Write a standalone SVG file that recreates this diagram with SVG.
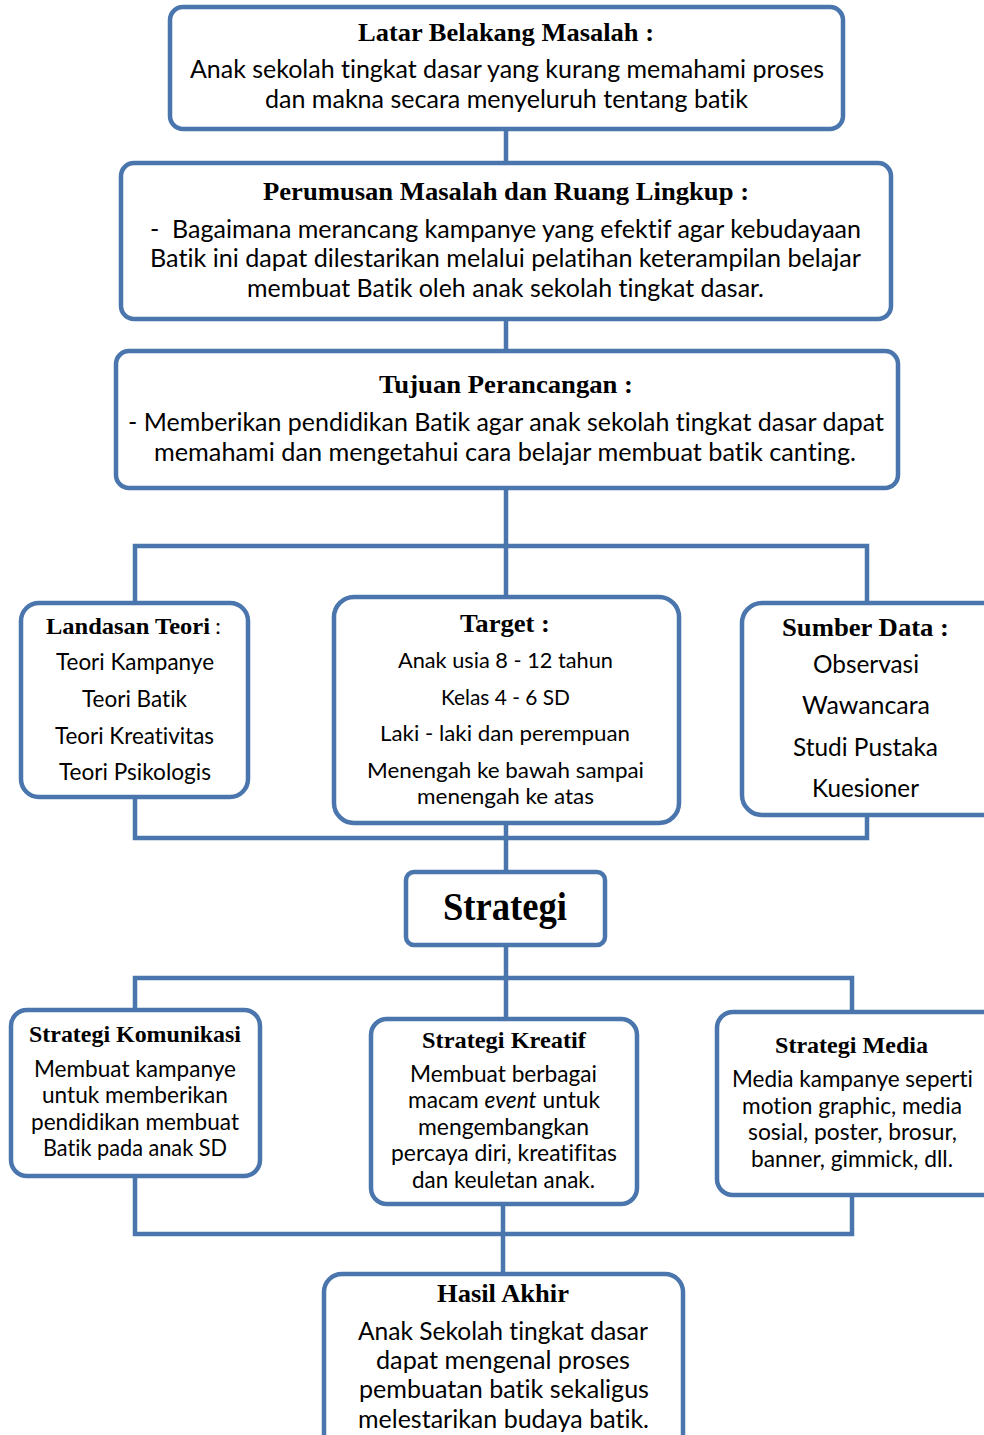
<svg xmlns="http://www.w3.org/2000/svg" width="984" height="1435" viewBox="0 0 984 1435">
<style>
.box{fill:#fff;stroke:#4a76ad;stroke-width:4.5}
.ln{fill:none;stroke:#4a76ad;stroke-width:4.5}
.h{font-family:"Liberation Serif",serif;font-weight:bold;fill:#000;text-anchor:middle}
.b{font-family:Lato,"Liberation Sans",sans-serif;fill:#000;text-anchor:middle;font-variant-ligatures:none}
</style>
<rect width="984" height="1435" fill="#fff"/>
<g id="connectors">
<path class="ln" d="M506 129V163M506 319V351M506 488V597M135 603V546H867V603"/>
<path class="ln" d="M135 797V838H867V815M506 823V872"/>
<path class="ln" d="M506 945V1019M135 1010V978H852V1012"/>
<path class="ln" d="M135 1176V1234H852V1195M503 1204V1274"/>
</g>
<g id="latar">
<rect class="box" x="170" y="7" width="673" height="122" rx="13"/>
<text class="h" x="506" y="41" font-size="25.5" textLength="296" lengthAdjust="spacingAndGlyphs">Latar Belakang Masalah :</text>
<text class="b" x="507" y="78" font-size="25" textLength="634" lengthAdjust="spacingAndGlyphs">Anak sekolah tingkat dasar yang kurang memahami proses</text>
<text class="b" x="506.5" y="108" font-size="25" textLength="483" lengthAdjust="spacingAndGlyphs">dan makna secara menyeluruh tentang batik</text>
</g>
<g id="perumusan">
<rect class="box" x="121" y="163" width="770" height="156" rx="13"/>
<text class="h" x="506" y="200" font-size="25.5" textLength="486" lengthAdjust="spacingAndGlyphs">Perumusan Masalah dan Ruang Lingkup :</text>
<text class="b" x="505.5" y="238" font-size="25" textLength="711" lengthAdjust="spacingAndGlyphs" xml:space="preserve">-  Bagaimana merancang kampanye yang efektif agar kebudayaan</text>
<text class="b" x="505.5" y="267" font-size="25" textLength="711" lengthAdjust="spacingAndGlyphs">Batik ini dapat dilestarikan melalui pelatihan keterampilan belajar</text>
<text class="b" x="505.5" y="297" font-size="25" textLength="517" lengthAdjust="spacingAndGlyphs">membuat Batik oleh anak sekolah tingkat dasar.</text>
</g>
<g id="tujuan">
<rect class="box" x="116" y="351" width="782" height="137" rx="13"/>
<text class="h" x="506" y="393" font-size="25.5" textLength="254" lengthAdjust="spacingAndGlyphs">Tujuan Perancangan :</text>
<text class="b" x="506" y="431" font-size="25" textLength="756" lengthAdjust="spacingAndGlyphs">- Memberikan pendidikan Batik agar anak sekolah tingkat dasar dapat</text>
<text class="b" x="505" y="461" font-size="25" textLength="702" lengthAdjust="spacingAndGlyphs">memahami dan mengetahui cara belajar membuat batik canting.</text>
</g>
<g id="landasan">
<rect class="box" x="21" y="603" width="227" height="194" rx="18"/>
<text class="h" x="128" y="634" font-size="23" textLength="164" lengthAdjust="spacingAndGlyphs">Landasan Teori</text>
<text class="b" x="218" y="634" font-size="22">:</text>
<text class="b" x="135" y="670" font-size="23" textLength="158" lengthAdjust="spacingAndGlyphs">Teori Kampanye</text>
<text class="b" x="134.5" y="707" font-size="23" textLength="105" lengthAdjust="spacingAndGlyphs">Teori Batik</text>
<text class="b" x="134.5" y="744" font-size="23" textLength="159" lengthAdjust="spacingAndGlyphs">Teori Kreativitas</text>
<text class="b" x="135" y="780" font-size="23" textLength="152" lengthAdjust="spacingAndGlyphs">Teori Psikologis</text>
</g>
<g id="target">
<rect class="box" x="334" y="597" width="345" height="226" rx="20"/>
<text class="h" x="505" y="632" font-size="25" textLength="90" lengthAdjust="spacingAndGlyphs">Target :</text>
<text class="b" x="505.5" y="668" font-size="22" textLength="215" lengthAdjust="spacingAndGlyphs">Anak usia 8 - 12 tahun</text>
<text class="b" x="505.5" y="705" font-size="22" textLength="129" lengthAdjust="spacingAndGlyphs">Kelas 4 - 6 SD</text>
<text class="b" x="505" y="741" font-size="22" textLength="250" lengthAdjust="spacingAndGlyphs">Laki - laki dan perempuan</text>
<text class="b" x="505.5" y="778" font-size="22" textLength="277" lengthAdjust="spacingAndGlyphs">Menengah ke bawah sampai</text>
<text class="b" x="505.5" y="804" font-size="22" textLength="177" lengthAdjust="spacingAndGlyphs">menengah ke atas</text>
</g>
<g id="sumber">
<rect class="box" x="742" y="603" width="260" height="212" rx="20"/>
<text class="h" x="865.5" y="636" font-size="25" textLength="167" lengthAdjust="spacingAndGlyphs">Sumber Data :</text>
<text class="b" x="866" y="673" font-size="25" textLength="106" lengthAdjust="spacingAndGlyphs">Observasi</text>
<text class="b" x="866" y="714" font-size="25" textLength="128" lengthAdjust="spacingAndGlyphs">Wawancara</text>
<text class="b" x="865.5" y="756" font-size="25" textLength="145" lengthAdjust="spacingAndGlyphs">Studi Pustaka</text>
<text class="b" x="865.5" y="797" font-size="25" textLength="107" lengthAdjust="spacingAndGlyphs">Kuesioner</text>
</g>
<g id="strategi">
<rect class="box" x="406" y="872" width="199" height="73" rx="8"/>
<text class="h" x="505" y="920" font-size="40" textLength="124" lengthAdjust="spacingAndGlyphs">Strategi</text>
</g>
<g id="komunikasi">
<rect class="box" x="11" y="1010" width="249" height="166" rx="16"/>
<text class="h" x="135" y="1042" font-size="23" textLength="212" lengthAdjust="spacingAndGlyphs">Strategi Komunikasi</text>
<text class="b" x="135" y="1077" font-size="23" textLength="202" lengthAdjust="spacingAndGlyphs">Membuat kampanye</text>
<text class="b" x="135" y="1103" font-size="23" textLength="186" lengthAdjust="spacingAndGlyphs">untuk memberikan</text>
<text class="b" x="135" y="1130" font-size="23" textLength="208" lengthAdjust="spacingAndGlyphs">pendidikan membuat</text>
<text class="b" x="135" y="1156" font-size="23" textLength="184" lengthAdjust="spacingAndGlyphs">Batik pada anak SD</text>
</g>
<g id="kreatif">
<rect class="box" x="371" y="1019" width="266" height="185" rx="16"/>
<text class="h" x="504" y="1048" font-size="23" textLength="164" lengthAdjust="spacingAndGlyphs">Strategi Kreatif</text>
<text class="b" x="503.5" y="1082" font-size="23" textLength="187" lengthAdjust="spacingAndGlyphs">Membuat berbagai</text>
<text class="b" x="504" y="1108" font-size="23" textLength="192" lengthAdjust="spacingAndGlyphs">macam <tspan font-style="italic">event</tspan> untuk</text>
<text class="b" x="503.5" y="1135" font-size="23" textLength="171" lengthAdjust="spacingAndGlyphs">mengembangkan</text>
<text class="b" x="504" y="1161" font-size="23" textLength="226" lengthAdjust="spacingAndGlyphs">percaya diri, kreatifitas</text>
<text class="b" x="503.5" y="1188" font-size="23" textLength="183" lengthAdjust="spacingAndGlyphs">dan keuletan anak.</text>
</g>
<g id="media">
<rect class="box" x="717" y="1012" width="285" height="183" rx="16"/>
<text class="h" x="851.5" y="1053" font-size="23" textLength="153" lengthAdjust="spacingAndGlyphs">Strategi Media</text>
<text class="b" x="852.5" y="1087" font-size="23" textLength="241" lengthAdjust="spacingAndGlyphs">Media kampanye seperti</text>
<text class="b" x="852" y="1114" font-size="23" textLength="220" lengthAdjust="spacingAndGlyphs">motion graphic, media</text>
<text class="b" x="852.5" y="1140" font-size="23" textLength="209" lengthAdjust="spacingAndGlyphs">sosial, poster, brosur,</text>
<text class="b" x="852" y="1167" font-size="23" textLength="202" lengthAdjust="spacingAndGlyphs">banner, gimmick, dll.</text>
</g>
<g id="hasil">
<rect class="box" x="324" y="1274" width="359" height="180" rx="18"/>
<text class="h" x="503" y="1302" font-size="26" textLength="132" lengthAdjust="spacingAndGlyphs">Hasil Akhir</text>
<text class="b" x="503" y="1340" font-size="25" textLength="290" lengthAdjust="spacingAndGlyphs">Anak Sekolah tingkat dasar</text>
<text class="b" x="503" y="1369" font-size="25" textLength="254" lengthAdjust="spacingAndGlyphs">dapat mengenal proses</text>
<text class="b" x="504" y="1398" font-size="25" textLength="290" lengthAdjust="spacingAndGlyphs">pembuatan batik sekaligus</text>
<text class="b" x="503.5" y="1428" font-size="25" textLength="291" lengthAdjust="spacingAndGlyphs">melestarikan budaya batik.</text>
</g>
</svg>
